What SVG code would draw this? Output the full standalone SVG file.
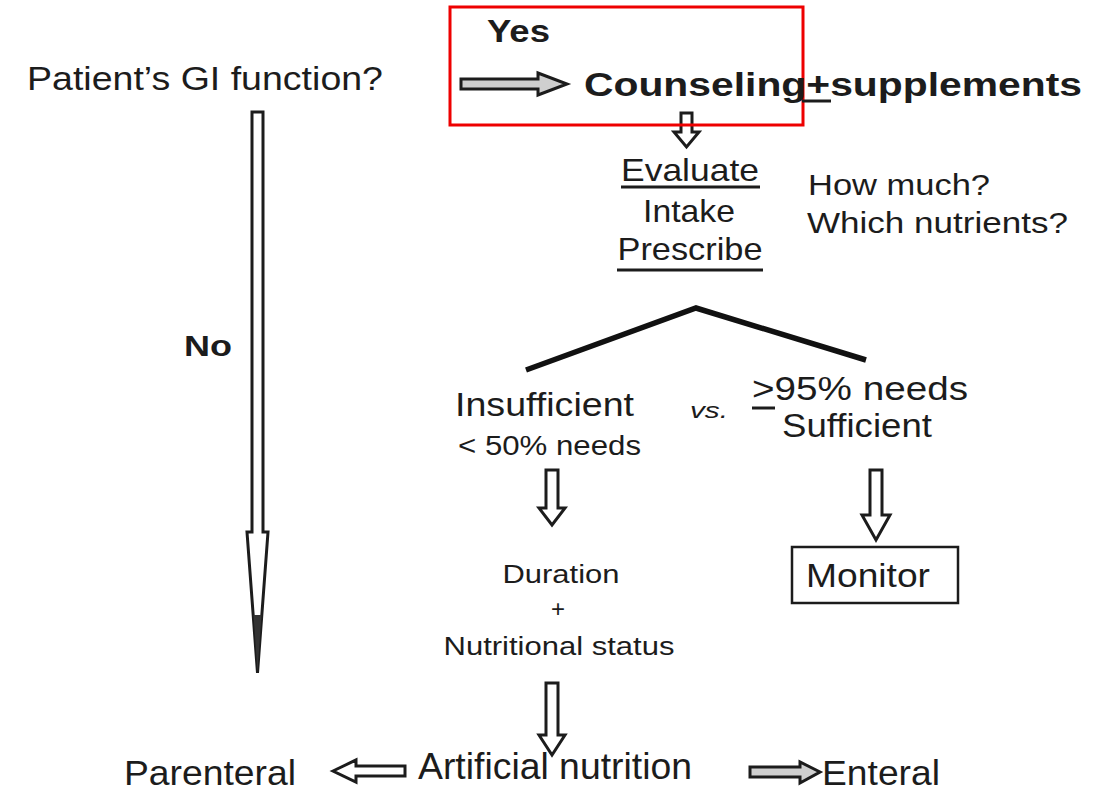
<svg xmlns="http://www.w3.org/2000/svg" width="1107" height="791" viewBox="0 0 1107 791">
<style>
text{font-family:"Liberation Sans",Arial,sans-serif;fill:#1c1c1c}
.b{font-weight:bold}
.arw{stroke:#1c1c1c;stroke-width:3;stroke-linejoin:miter}
.w{fill:#fff}
.g{fill:#cfcfcf}
.ul{stroke:#1c1c1c;stroke-width:3}
</style>
<rect width="1107" height="791" fill="#fff"/>
<g id="connectors">
<polygon class="arw g" points="461,79 538,79 538,73 567,84 538,95 538,89 461,89"/>
<polygon class="arw w" points="681,113 692,113 692,132 699,132 686.5,147 674,132 681,132"/>
<polygon class="arw w" points="252,112 263,112 263,532 268,532 257.5,673 247,532 252,532"/>
<polygon fill="#333" points="253.5,615 261.5,615 257.5,672"/>
<polyline points="526,370 696,308 866,360" fill="none" stroke="#111" stroke-width="5.5"/>
<polygon class="arw w" points="546,470 558,470 558,508 565,508 552,525 539,508 546,508"/>
<polygon class="arw w" points="870,470 882,470 882,515 890,515 876,540 862,515 870,515"/>
<polygon class="arw w" points="546,683 558,683 558,735 565,735 552,755 539,735 546,735"/>
<polygon class="arw w" points="333,771 356,760 356,766 405,766 405,776 356,776 356,782"/>
<polygon class="arw g" points="750,767 800,767 800,762 820,772 800,783 800,777 750,777"/>
</g>
<g id="highlight">
<rect x="450" y="7" width="353" height="118" fill="none" stroke="#ee0000" stroke-width="3"/>
</g>
<g id="question">
<text x="27" y="90" font-size="33" textLength="356" lengthAdjust="spacingAndGlyphs">Patient’s GI function?</text>
</g>
<g id="yes-label">
<text class="b" x="487" y="42" font-size="32" textLength="63" lengthAdjust="spacingAndGlyphs">Yes</text>
</g>
<g id="counseling">
<text class="b" x="584" y="96" font-size="33" textLength="498" lengthAdjust="spacingAndGlyphs">Counseling+supplements</text>
<line class="ul" x1="802" y1="101" x2="831" y2="101"/>
</g>
<g id="evaluate">
<text x="690" y="181" font-size="32" text-anchor="middle" textLength="138" lengthAdjust="spacingAndGlyphs">Evaluate</text>
<line class="ul" x1="621" y1="187" x2="760" y2="187"/>
<text x="689" y="222" font-size="32" text-anchor="middle" textLength="92" lengthAdjust="spacingAndGlyphs">Intake</text>
<text x="690" y="260" font-size="32" text-anchor="middle" textLength="145" lengthAdjust="spacingAndGlyphs">Prescribe</text>
<line class="ul" x1="617" y1="270" x2="763" y2="270"/>
</g>
<g id="questions">
<text x="808" y="195" font-size="30" textLength="182" lengthAdjust="spacingAndGlyphs">How much?</text>
<text x="807" y="233" font-size="30" textLength="261" lengthAdjust="spacingAndGlyphs">Which nutrients?</text>
</g>
<g id="no-label">
<text class="b" x="184" y="356" font-size="30" textLength="48" lengthAdjust="spacingAndGlyphs">No</text>
</g>
<g id="insufficient">
<text x="455" y="416" font-size="33" textLength="179" lengthAdjust="spacingAndGlyphs">Insufficient</text>
<text x="458" y="455" font-size="27" textLength="183" lengthAdjust="spacingAndGlyphs">&lt; 50% needs</text>
</g>
<g id="vs">
<text x="690" y="418" font-size="22" font-style="italic" textLength="38" lengthAdjust="spacingAndGlyphs">vs.</text>
</g>
<g id="sufficient">
<text x="752" y="400" font-size="33" textLength="216" lengthAdjust="spacingAndGlyphs">&gt;95% needs</text>
<line class="ul" x1="752" y1="408" x2="775" y2="408"/>
<text x="782" y="437" font-size="33" textLength="150" lengthAdjust="spacingAndGlyphs">Sufficient</text>
</g>
<g id="monitor">
<rect x="792" y="547" width="166" height="56" fill="#fff" stroke="#1c1c1c" stroke-width="2.5"/>
<text x="806" y="587" font-size="33" textLength="124" lengthAdjust="spacingAndGlyphs">Monitor</text>
</g>
<g id="duration">
<text x="561" y="583" font-size="26" text-anchor="middle" textLength="117" lengthAdjust="spacingAndGlyphs">Duration</text>
<text x="558" y="617" font-size="24" text-anchor="middle">+</text>
<text x="559" y="655" font-size="26" text-anchor="middle" textLength="231" lengthAdjust="spacingAndGlyphs">Nutritional status</text>
</g>
<g id="artificial">
<text x="418" y="779" font-size="36" textLength="274" lengthAdjust="spacingAndGlyphs">Artificial nutrition</text>
</g>
<g id="parenteral">
<text x="124" y="785" font-size="35" textLength="172" lengthAdjust="spacingAndGlyphs">Parenteral</text>
</g>
<g id="enteral">
<text x="822" y="785" font-size="35" textLength="118" lengthAdjust="spacingAndGlyphs">Enteral</text>
</g>
</svg>
